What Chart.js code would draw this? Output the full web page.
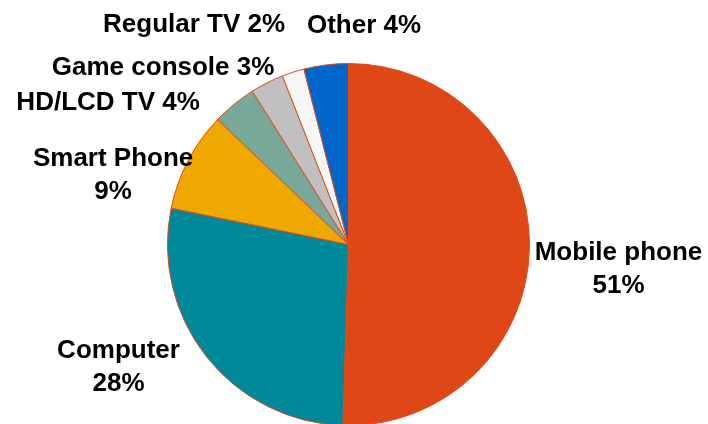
<!DOCTYPE html>
<html>
<head>
<meta charset="utf-8">
<script src="https://cdn.jsdelivr.net/npm/chart.js@4/dist/chart.umd.min.js"></script>
<style>
  html, body { margin: 0; padding: 0; background: #fff; overflow: hidden; }
  #wrap { position: relative; width: 708px; height: 430px; }
</style>
</head>
<body>
<div id="wrap"><canvas id="deviceChart"></canvas></div>
<script>
const devices = ["Mobile phone", "Computer", "Smart Phone", "HD/LCD TV", "Game console", "Regular TV", "Other"];
const shares = [51, 28, 9, 4, 3, 2, 4];
const sliceColors = ["#DF4716", "#00899A", "#EEA800", "#78A998", "#C0C0C0", "#F7F7F7", "#0066CC"];

// label text lines, then where each sits relative to its slice edge (dx, dy of first baseline)
const labelLines = [
    ["Mobile phone", "51%"],
    ["Computer", "28%"],
    ["Smart Phone", "9%"],
    ["HD/LCD TV 4%"],
    ["Game console 3%"],
    ["Regular TV 2%"],
    ["Other 4%"]
];
const labelOffsets = [[89, 13], [-88, 1], [-75, 5], [-126, 6], [-104, -8], [-99, -40], [38, -32]];

const outsideLabels = {
    id: "outsideLabels",
    afterDatasetsDraw(chart) {
        const ctx = chart.ctx;
        const arcs = chart.getDatasetMeta(0).data;
        ctx.save();
        ctx.font = 'bold 26px "Liberation Sans", Arial, sans-serif';
        ctx.fillStyle = "#000";
        ctx.textAlign = "center";
        ctx.textBaseline = "alphabetic";
        arcs.forEach((arc, i) => {
            const mid = (arc.startAngle + arc.endAngle) / 2;
            const x = arc.x + Math.cos(mid) * arc.outerRadius + labelOffsets[i][0];
            const y = arc.y + Math.sin(mid) * arc.outerRadius + labelOffsets[i][1];
            labelLines[i].forEach((line, k) => {
                ctx.fillText(line, x, y + k * 33);
            });
        });
        ctx.restore();
    }
};

new Chart(document.getElementById("deviceChart").getContext("2d"), {
    type: "pie",
    data: {
        labels: devices,
        datasets: [{
            data: shares,
            backgroundColor: sliceColors,
            borderColor: "#E04A17",
            borderWidth: 1
        }]
    },
    options: {
        responsive: true,
        maintainAspectRatio: false,
        animation: false,
        events: [],
        layout: { padding: { top: 63, bottom: 4, left: 0, right: 11 } },
        plugins: {
            legend: { display: false },
            tooltip: { enabled: false }
        }
    },
    plugins: [outsideLabels]
});
</script>
</body>
</html>
